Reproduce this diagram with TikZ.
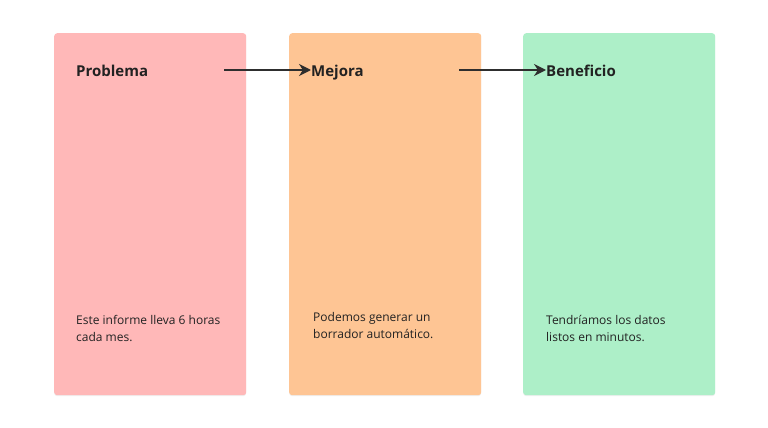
\documentclass[tikz,border=0pt]{standalone}
\usepackage{fontspec}
\setmainfont{Open Sans}
\usetikzlibrary{arrows.meta,shadows}
\definecolor{cpink}{HTML}{FFB8B8}
\definecolor{corange}{HTML}{FEC594}
\definecolor{cgreen}{HTML}{ADEFC8}
\definecolor{ink}{HTML}{222222}
\definecolor{arrowc}{HTML}{2E2E2E}
\tikzset{
  card/.style={draw=none, rounded corners=3pt, minimum width=192pt, minimum height=362pt, inner sep=0pt, anchor=north west,
    drop shadow={opacity=0.12, shadow xshift=0pt, shadow yshift=-1pt}},
  ttl/.style={font=\bfseries\fontsize{15}{18}\selectfont, text=ink, anchor=base west, inner sep=0pt},
  body/.style={font=\fontsize{12}{17}\selectfont, text=ink, anchor=base west, inner sep=0pt, align=left},
  arr/.style={draw=arrowc, line width=1.8pt, -{Stealth[length=12pt,width=12pt]}}
}
\begin{document}
\begin{tikzpicture}[x=1pt,y=-1pt]
\useasboundingbox[fill=white] (0,0) rectangle (768,428);
\node[card, fill=cpink] (c1) at (54,33) {};
\node[card, fill=corange] (c2) at (289,33) {};
\node[card, fill=cgreen] (c3) at (523,33) {};
\node[ttl] (t1) at (76,76) {Problema};
\node[ttl] (t2) at (311,76) {Mejora};
\node[ttl] (t3) at (546,76) {Beneficio};
\coordinate (a1) at (224,70);
\coordinate (a2) at (459,70);
\draw[arr] (a1) -- (a1 -| t2.west);
\draw[arr] (a2) -- (a2 -| t3.west);
\node[body] (b1) at (76,341) {Este informe lleva 6 horas\\cada mes.};
\node[body] (b2) at (313,338) {Podemos generar un\\borrador automático.};
\node[body] (b3) at (546,341) {Tendríamos los datos\\listos en minutos.};
\end{tikzpicture}
\end{document}
